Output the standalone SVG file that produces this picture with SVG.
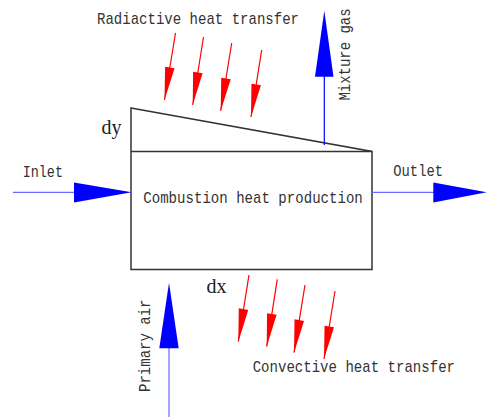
<svg xmlns="http://www.w3.org/2000/svg" width="487" height="417" viewBox="0 0 487 417">
<style>
.lbl{font-family:"Liberation Mono","DejaVu Sans Mono",monospace;font-size:17px;fill:#333}
.d{font-family:"Liberation Serif","Times New Roman",serif;font-size:20px;fill:#222}
.box{fill:none;stroke:#333;stroke-width:1.5}
.rs{stroke:#ff0000;stroke-width:1.2;fill:none;marker-end:url(#rh)}
.bl{stroke:#6a6aff;stroke-width:1.2;fill:none}
.bh{fill:#0000ff;stroke:none}
</style>
<defs>
<marker id="rh" markerUnits="userSpaceOnUse" markerWidth="36" markerHeight="12" viewBox="0 -6 34 12" refX="33" refY="0" orient="auto">
<path d="M0,-4.8 L33,0 L0,4.8 Z" fill="#ff0000"/>
</marker>
</defs>
<rect width="487" height="417" fill="#ffffff"/>
<g id="reactor">
<path class="box" d="M131,108 L372,151.5 L372,269.5 L131,269.5 Z"/>
<line class="box" x1="131" y1="151.5" x2="372" y2="151.5" stroke="#555"/>
<text class="lbl" x="143.3" y="203.3" textLength="219.5" lengthAdjust="spacingAndGlyphs">Combustion heat production</text>
<text class="d" x="101.5" y="134">dy</text>
<text class="d" x="206.5" y="293">dx</text>
</g>
<g id="connectors">
<g id="radiative">
<line class="rs" x1="175.5" y1="33" x2="164.5" y2="100"/>
<line class="rs" x1="203.5" y1="37" x2="192.7" y2="105"/>
<line class="rs" x1="231.7" y1="43" x2="220.7" y2="111"/>
<line class="rs" x1="261.7" y1="50" x2="251" y2="117"/>
</g>
<g id="convective">
<line class="rs" x1="249" y1="275" x2="238.3" y2="341.7"/>
<line class="rs" x1="277.3" y1="279.3" x2="266.7" y2="346.7"/>
<line class="rs" x1="305" y1="285" x2="294" y2="352.7"/>
<line class="rs" x1="335" y1="291" x2="324" y2="359"/>
</g>
<g id="inlet">
<line class="bl" x1="13" y1="192.3" x2="80" y2="192.3"/>
<polygon class="bh" points="74,182.5 131.7,192.3 74,202.5"/>
</g>
<g id="outlet">
<line class="bl" x1="372" y1="192.3" x2="440" y2="192.3"/>
<polygon class="bh" points="433.3,182.5 486.7,192.3 433.3,202.5"/>
</g>
<g id="mixture">
<line x1="324.3" y1="70" x2="324.3" y2="145" stroke="#0000ff" stroke-width="1.2"/>
<polygon class="bh" points="315,76.7 324.3,10.7 333.5,76.7"/>
</g>
<g id="primary">
<line class="bl" x1="169" y1="345" x2="169" y2="417"/>
<polygon class="bh" points="159.3,348.3 169,282.7 178.7,348.3"/>
</g>
</g>
<g id="labels">
<text class="lbl" x="97" y="24" textLength="202" lengthAdjust="spacingAndGlyphs">Radiactive heat transfer</text>
<text class="lbl" x="22.7" y="177" textLength="40.3" lengthAdjust="spacingAndGlyphs">Inlet</text>
<text class="lbl" x="393.3" y="176" textLength="49.7" lengthAdjust="spacingAndGlyphs">Outlet</text>
<text class="lbl" transform="translate(349.5,100.5) rotate(-90)" textLength="92" lengthAdjust="spacingAndGlyphs">Mixture gas</text>
<text class="lbl" transform="translate(149.5,392) rotate(-90)" textLength="92.5" lengthAdjust="spacingAndGlyphs">Primary air</text>
<text class="lbl" x="252.7" y="371.7" textLength="202.3" lengthAdjust="spacingAndGlyphs">Convective heat transfer</text>
</g>
</svg>
